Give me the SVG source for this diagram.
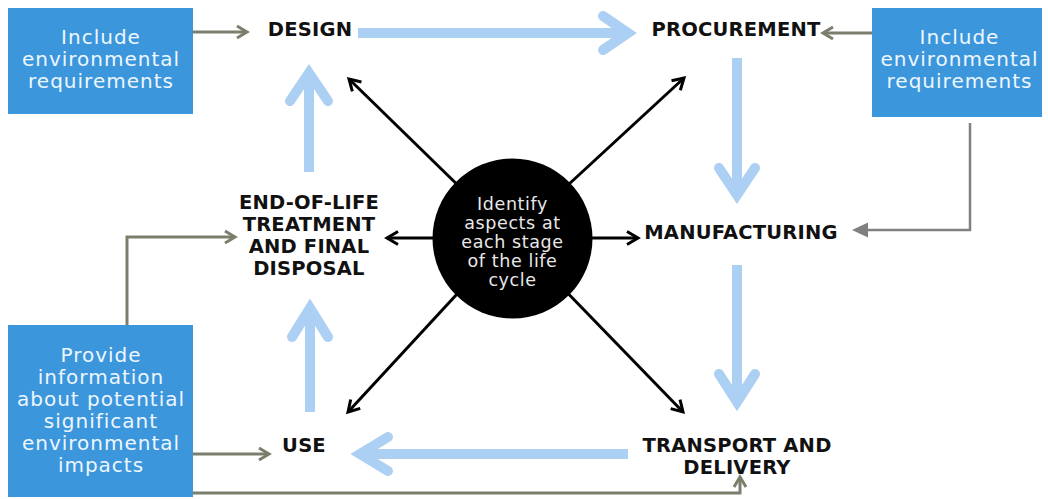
<svg xmlns="http://www.w3.org/2000/svg" width="1048" height="499" viewBox="0 0 1048 499">
  <style>
    .box { fill: #3c96dc; }
    .boxtxt { font-family: "DejaVu Sans", Verdana, sans-serif; font-size: 20px; fill: #eef6ff; text-anchor: middle; letter-spacing: 1px; }
    .stage { font-family: "DejaVu Sans", Verdana, sans-serif; font-size: 19.5px; font-weight: bold; fill: #111; text-anchor: middle; letter-spacing: 0.2px; }
    .hub { fill: #000; }
    .hubtxt { font-family: "DejaVu Sans", Verdana, sans-serif; font-size: 17.5px; fill: #e8e8e8; text-anchor: middle; letter-spacing: 0.6px; }
    .flow { fill: none; stroke: #abd0f3; stroke-width: 10; }
    .flow-shaft { stroke-linecap: butt; }
    .flow-head { stroke-linecap: round; stroke-linejoin: miter; stroke-miterlimit: 6; }
    .ray { fill: none; stroke: #000; stroke-width: 3; marker-end: url(#rayHead); }
    .feed { fill: none; stroke: #7c7e6c; stroke-width: 3; marker-end: url(#feedHead); }
    .feed-plain { fill: none; stroke: #808080; stroke-width: 2.5; }
  </style>
  <defs>
    <marker id="rayHead" viewBox="0 0 16 16" refX="13" refY="8" markerWidth="16" markerHeight="16" markerUnits="userSpaceOnUse" orient="auto">
      <path d="M2,1.5 L13,8 L2,14.5" fill="none" stroke="#000" stroke-width="3" stroke-linejoin="miter"/>
    </marker>
    <marker id="feedHead" viewBox="0 0 16 16" refX="13" refY="8" markerWidth="16" markerHeight="16" markerUnits="userSpaceOnUse" orient="auto">
      <path d="M3,2 L13,8 L3,14" fill="none" stroke="#7c7e6c" stroke-width="3" stroke-linejoin="miter"/>
    </marker>
  </defs>

  <rect width="1048" height="499" fill="#ffffff"/>

  <!-- connectors -->
  <g id="connectors">
    <!-- life-cycle flow (light blue) -->
    <g id="flow-design-procurement">
      <line class="flow flow-shaft" x1="358" y1="33" x2="628" y2="33"/>
      <polyline class="flow flow-head" points="603,16 628,33 603,50"/>
    </g>
    <g id="flow-procurement-manufacturing">
      <line class="flow flow-shaft" x1="737" y1="58" x2="737" y2="195"/>
      <polyline class="flow flow-head" points="719,168 737,195 755,168"/>
    </g>
    <g id="flow-manufacturing-transport">
      <line class="flow flow-shaft" x1="737" y1="265" x2="737" y2="402"/>
      <polyline class="flow flow-head" points="719,374 737,402 755,374"/>
    </g>
    <g id="flow-transport-use">
      <line class="flow flow-shaft" x1="628" y1="454" x2="360" y2="454"/>
      <polyline class="flow flow-head" points="388,437 360,454 388,471"/>
    </g>
    <g id="flow-use-eol">
      <line class="flow flow-shaft" x1="310" y1="412" x2="310" y2="308"/>
      <polyline class="flow flow-head" points="292,337 310,308 328,337"/>
    </g>
    <g id="flow-eol-design">
      <line class="flow flow-shaft" x1="309" y1="172" x2="309" y2="73"/>
      <polyline class="flow flow-head" points="290,101 309,73 328,101"/>
    </g>

    <!-- rays from the hub (black) -->
    <line class="ray" x1="470" y1="197" x2="349" y2="79"/>
    <line class="ray" x1="555" y1="197" x2="684" y2="78"/>
    <line class="ray" x1="470" y1="238" x2="387" y2="238"/>
    <line class="ray" x1="555" y1="238" x2="638" y2="238"/>
    <line class="ray" x1="470" y1="280" x2="348" y2="412"/>
    <line class="ray" x1="555" y1="280" x2="683" y2="412"/>

    <!-- inputs from the blue boxes -->
    <polyline class="feed" points="193,32 247,32"/>
    <polyline class="feed" points="872,33 823,33"/>
    <polyline class="feed" points="127,325 127,237 235,237"/>
    <polyline class="feed" points="193,454 269,454"/>
    <polyline class="feed" points="193,493 740,493 740,477"/>
    <polyline class="feed-plain" points="970,123 970,230 866,230"/>
    <polygon points="852,230 868,222.5 868,237.5" fill="#808080"/>
  </g>

  <!-- hub -->
  <g id="hub">
    <circle class="hub" cx="512.5" cy="238.5" r="80"/>
    <text class="hubtxt" x="512.5" y="210">Identify</text>
    <text class="hubtxt" x="512.5" y="229">aspects at</text>
    <text class="hubtxt" x="512.5" y="248">each stage</text>
    <text class="hubtxt" x="512.5" y="267">of the life</text>
    <text class="hubtxt" x="512.5" y="286">cycle</text>
  </g>

  <!-- life-cycle stages -->
  <g id="design"><text class="stage" x="310" y="36">DESIGN</text></g>
  <g id="procurement"><text class="stage" x="736" y="36">PROCUREMENT</text></g>
  <g id="manufacturing"><text class="stage" x="741" y="239">MANUFACTURING</text></g>
  <g id="transport">
    <text class="stage" x="737" y="452">TRANSPORT AND</text>
    <text class="stage" x="737" y="474">DELIVERY</text>
  </g>
  <g id="use"><text class="stage" x="304" y="452">USE</text></g>
  <g id="end-of-life">
    <text class="stage" x="309" y="209">END-OF-LIFE</text>
    <text class="stage" x="309" y="231">TREATMENT</text>
    <text class="stage" x="309" y="253">AND FINAL</text>
    <text class="stage" x="309" y="275">DISPOSAL</text>
  </g>

  <!-- input boxes -->
  <g id="req-design">
    <rect class="box" x="8" y="8" width="185" height="106"/>
    <text class="boxtxt" x="101" y="44">Include</text>
    <text class="boxtxt" x="101" y="66">environmental</text>
    <text class="boxtxt" x="101" y="88">requirements</text>
  </g>
  <g id="req-procurement">
    <rect class="box" x="872" y="8" width="170" height="109"/>
    <text class="boxtxt" x="959.5" y="44">Include</text>
    <text class="boxtxt" x="959.5" y="66">environmental</text>
    <text class="boxtxt" x="959.5" y="88">requirements</text>
  </g>
  <g id="impact-info">
    <rect class="box" x="8" y="325" width="185" height="172"/>
    <text class="boxtxt" x="101" y="362">Provide</text>
    <text class="boxtxt" x="101" y="384">information</text>
    <text class="boxtxt" x="101" y="406">about potential</text>
    <text class="boxtxt" x="101" y="428">significant</text>
    <text class="boxtxt" x="101" y="450">environmental</text>
    <text class="boxtxt" x="101" y="472">impacts</text>
  </g>
</svg>
